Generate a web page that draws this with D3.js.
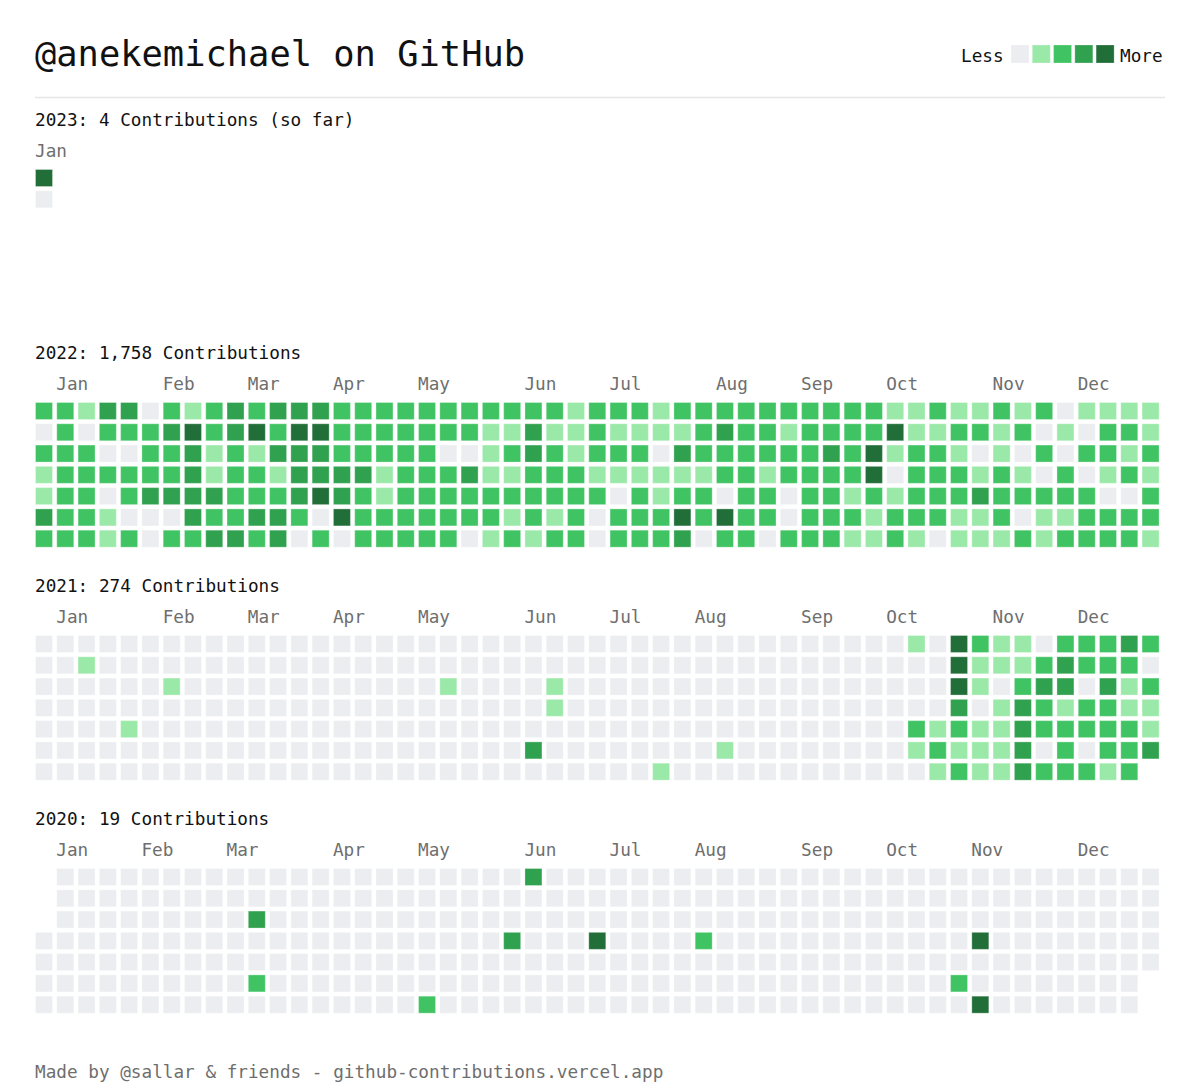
<!DOCTYPE html>
<html>
<head>
<meta charset="utf-8">
<script src="https://cdn.jsdelivr.net/npm/d3@7/dist/d3.min.js"></script>
<style>
  html, body { margin: 0; padding: 0; background: #fff; }
  svg { display: block; }
  text { font-family: "DejaVu Sans Mono", "Liberation Mono", monospace; }
</style>
</head>
<body>
<svg id="chart" width="1200" height="1090"></svg>
<script>
// ---------- DATA ----------
const userName = "@anekemichael on GitHub";
const footerText = "Made by @sallar & friends - github-contributions.vercel.app";
const levelColors = ["#ebedf0", "#9be9a8", "#40c463", "#30a14e", "#216e39"];
const legendLevels = [0, 1, 2, 3, 4];

const years = ["2023", "2022", "2021", "2020"];
const yearTitles = [
  "2023: 4 Contributions (so far)",
  "2022: 1,758 Contributions",
  "2021: 274 Contributions",
  "2020: 19 Contributions"
];

// month labels: [label, week column]
const months2023 = [["Jan", 0]];
const months2022 = [["Jan",1],["Feb",6],["Mar",10],["Apr",14],["May",18],["Jun",23],["Jul",27],["Aug",32],["Sep",36],["Oct",40],["Nov",45],["Dec",49]];
const months2021 = [["Jan",1],["Feb",6],["Mar",10],["Apr",14],["May",18],["Jun",23],["Jul",27],["Aug",31],["Sep",36],["Oct",40],["Nov",45],["Dec",49]];
const months2020 = [["Jan",1],["Feb",5],["Mar",9],["Apr",14],["May",18],["Jun",23],["Jul",27],["Aug",31],["Sep",36],["Oct",40],["Nov",44],["Dec",49]];

// contribution levels, one string per weekday (Sun..Sat), one char per week; "." = no day
const levels2023 = ["4", "0", ".", ".", ".", ".", "."];
const levels2022 = [
  "221330212323332222" + "22222221222122222" + "222221121121201111",
  "020222342342442222" + "22211311211112322" + "122224112212010221",
  "222002231213332222" + "20012321222032222" + "223241221010202212",
  "122222231221333312" + "22311222111111221" + "222240222121020121",
  "122023333222343212" + "22222222202122022" + "022121222322222002",
  "322100032233204222" + "22221212022242422" + "022212221120112222",
  "222120223323020222" + "22012122022230220" + "222112101112122221"
];
const levels2021 = [
  "000000000000000000" + "00000000000000000" + "000000104211022232",
  "001000000000000000" + "00000000000000000" + "000000004111232220",
  "000000100000000000" + "01000010000000000" + "000000004102330312",
  "000000000000000000" + "00000010000000000" + "000000003013212211",
  "000010000000000000" + "00000000000000000" + "000000212113222221",
  "000000000000000000" + "00000300000000100" + "000000121113020223",
  "000000000000000000" + "00000000000100000" + "00000001211322212."
];
const levels2020 = [
  ".00000000000000000" + "00000300000000000" + "000000000000000000",
  ".00000000000000000" + "00000000000000000" + "000000000000000000",
  ".00000000030000000" + "00000000000000000" + "000000000000000000",
  "000000000000000000" + "00003000400002000" + "000000000400000000",
  "000000000000000000" + "00000000000000000" + "000000000000000000",
  "000000000020000000" + "00000000000000000" + "00000000200000000.",
  "000000000000000000" + "20000000000000000" + "00000000040000000."
];

const yearLevels = [levels2023, levels2022, levels2021, levels2020];
const yearMonths = [months2023, months2022, months2021, months2020];

// ---------- LAYOUT ----------
const left = 35, pitch = 21.28, cell = 18;
const blockTop = 126, blockStep = 233;
const fs = 17.7;

const svg = d3.select("#chart");
const x = d3.scaleLinear().domain([0, 53]).range([left, left + 53 * pitch]);
const y = d3.scaleLinear().domain([0, 7]).range([0, 7 * pitch]);
const color = d3.scaleOrdinal().domain(legendLevels).range(levelColors);

// header
svg.append("text").attr("x", 35).attr("y", 66)
  .attr("font-size", 35.4).attr("fill", "#111").text(userName);

const legend = svg.append("g");
legend.append("text").attr("x", 961).attr("y", 62).attr("font-size", fs).attr("fill", "#111").text("Less");
legend.selectAll("rect").data(legendLevels).join("rect")
  .attr("x", d => 1011 + d * pitch).attr("y", 45)
  .attr("width", cell).attr("height", cell)
  .attr("fill", d => color(d))
  .attr("stroke", "rgba(255,255,255,0.25)").attr("stroke-width", 1);
legend.append("text").attr("x", 1120).attr("y", 62).attr("font-size", fs).attr("fill", "#111").text("More");

svg.append("line").attr("x1", 35).attr("x2", 1165).attr("y1", 97.5).attr("y2", 97.5)
  .attr("stroke", "#e6e6e6").attr("stroke-width", 1.5);

// year blocks
years.forEach((yr, i) => {
  const base = blockTop + i * blockStep;
  const g = svg.append("g");
  g.append("text").attr("x", 35).attr("y", base)
    .attr("font-size", fs).attr("fill", "#111").text(yearTitles[i]);

  g.selectAll("text.month").data(yearMonths[i]).join("text")
    .attr("class", "month")
    .attr("x", d => x(d[1]))
    .attr("y", base + 31)
    .attr("font-size", fs).attr("fill", "#6e6e6e")
    .text(d => d[0]);

  const cells = [];
  yearLevels[i].forEach((row, r) => {
    row.split("").forEach((ch, c) => {
      if (ch !== ".") cells.push({ r, c, v: +ch });
    });
  });
  const top = base + 43;
  g.selectAll("rect").data(cells).join("rect")
    .attr("x", d => x(d.c) + 0.5)
    .attr("y", d => top + y(d.r) + 0.5)
    .attr("width", cell - 1).attr("height", cell - 1)
    .attr("fill", d => color(d.v))
    .attr("stroke", "rgba(255,255,255,0.3)").attr("stroke-width", 1);
});

// footer
svg.append("text").attr("x", 35).attr("y", 1078)
  .attr("font-size", fs).attr("fill", "#6e6e6e").text(footerText);
</script>
</body>
</html>
